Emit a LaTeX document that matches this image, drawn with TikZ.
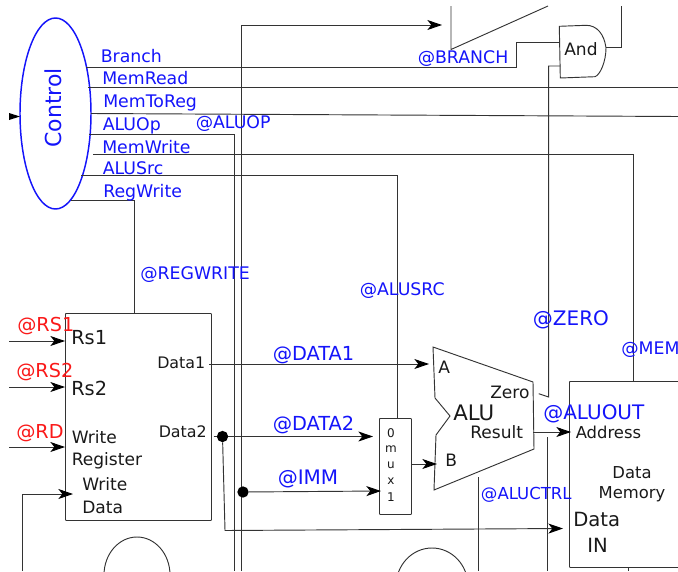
\documentclass[tikz,border=0pt]{standalone}
\usepackage{fontspec}
\setmainfont{DejaVu Sans}
\usetikzlibrary{arrows.meta,shapes.geometric}
\definecolor{lbl}{RGB}{20,20,250}
\definecolor{lred}{RGB}{250,25,25}
\tikzset{
  x=0.75pt,y=-0.75pt,
  wire/.style={draw=black!80,line width=0.7pt},
  arr/.style={wire,-{Stealth[length=11pt,width=7.5pt,inset=3pt,black]}},
  box/.style={draw=black!80,line width=0.7pt},
  bl/.style={text=lbl,font=\fontsize{13}{13}\selectfont,anchor=west,inner sep=0pt},
  blb/.style={text=lbl,font=\fontsize{14.5}{14.5}\selectfont,anchor=west,inner sep=0pt},
  rd/.style={text=lred,font=\fontsize{14.4}{14.4}\selectfont,anchor=west,inner sep=0pt},
  tx/.style={text=black!90,font=\fontsize{12.8}{12.8}\selectfont,anchor=west,inner sep=0pt},
  muxl/.style={text=black!90,font=\fontsize{9}{9}\selectfont,inner sep=0pt},
  dot/.style={circle,fill=black,inner sep=0pt,minimum size=8.5pt},
}
\begin{document}
\begin{tikzpicture}
\useasboundingbox (0,0) rectangle (678,571);
% free ends of connectors
\coordinate (ctlBranch) at (86,67);
\coordinate (ctlMemRead) at (88,87);
\coordinate (ctlM2R) at (91,113.5);
\coordinate (ctlALUOp) at (89,134);
\coordinate (ctlMemWrite) at (93,154.5);
\coordinate (ctlALUSrc) at (81,175);
\coordinate (ctlRegWrite) at (71,200);
\coordinate (pcTarget) at (442,25);
\coordinate (zeroEnd) at (548.7,397);
% units
\node[box,rounded corners=0.5pt,minimum width=109.5pt,minimum height=155.25pt,inner sep=0pt,anchor=north west] (reg) at (65,313) {};
\node[box,rounded corners=0.5pt,minimum width=90pt,minimum height=139.5pt,inner sep=0pt,anchor=north west] (mem) at (569,381) {};
\node[box,rounded corners=0.5pt,minimum width=24pt,minimum height=72pt,inner sep=0pt,anchor=north west] (mux) at (379,418) {};
\node[draw=lbl,line width=1.1pt,ellipse,minimum width=53.25pt,minimum height=143.25pt,inner sep=0pt] (ctl) at (55.5,113.5) {};
% ALU
\draw[box] (433,347) -- (533,382) -- (534,449) -- (434,490) -- (436,435) -- (450,416) -- (435,398) -- cycle;
\coordinate (aluA) at (429,364);
\coordinate (aluB) at (437,464);
\coordinate (aluRes) at (533,432);
\coordinate (aluZero) at (538.7,393.7);
% wires
\draw[wire] (ctlBranch) -- (516.7,67) -- (516.7,42) -- (559.5,42);
\draw[wire] (ctlMemRead) -- (678,87);
\draw[wire] (ctlM2R) -- (678,116.5);
\draw[wire] (ctlALUOp) -- (234,134) -- (234,571);
\draw[wire] (ctlMemWrite) -- (633.7,154.5) -- (633.7,381);
\draw[wire] (ctlALUSrc) -- (397,175) -- (397,418);
\draw[wire] (ctlRegWrite) -- (134.5,200) -- (134.5,313);
\draw[arr] (241.5,571) -- (241.5,25) -- (pcTarget);
% branch adder stub
\draw[wire] (451,6) -- (451,49.5) -- (548,6);
% And gate
\draw[box] (559.3,26.3) -- (586,25.3) .. controls (597,25.3) and (604,34) .. (606,47.7) .. controls (606,62) and (600,75) .. (595,76.7) -- (560.3,78) -- cycle;
\draw[wire] (606,47.5) -- (621,47.5) -- (621,6);
\draw[wire] (560.3,66) -- (548.7,66) -- (zeroEnd) -- (aluZero);
% Register file and datapath arrows
\coordinate (rs1In) at (9,341);
\coordinate (rs2In) at (9,387);
\coordinate (rdIn) at (9,447);
\draw[arr] (rs1In) -- (65,341);
\draw[arr] (rs2In) -- (65,387);
\draw[arr] (rdIn) -- (65,447);
\draw[arr] (22,571) -- (22,494) -- (73,494);
\draw[arr] (209,364) -- (aluA);
\node[dot] (d2) at (222.5,436.5) {};
\node[dot] (imm) at (243,492) {};
\draw[wire] (213.5,436.5) -- (d2);
\draw[arr] (d2) -- (373,436.5);
\draw[arr] (imm) -- (381,491);
\draw[arr] (mux.east |- aluB) -- (aluB);
\draw[arr] (d2) -- (225,530.5) -- (563,528.5);
\draw[arr] (aluRes) -- (571,432);
\draw[wire] (478,477) -- (478,571);
\draw[wire] (547,437) -- (547,571);
\draw[wire] (628,567) -- (628,571);
% control input
\coordinate (ctlIn) at (9,116.5);
\fill[black] (ctlIn) ++(0,-3.5) -- (20,116.5) -- (9,120) -- cycle;
% partial ellipses at the lower edge
\draw[box] (137,575) ellipse [x radius=33,y radius=38];
\draw[box] (432,586) ellipse [x radius=36,y radius=38];
% Control labels
\node[rotate=90,text=lbl,font=\fontsize{16.5}{16.5}\selectfont,inner sep=0pt] (ctll) at (53.5,108) {Control};
\node[bl] (n1) at (100.5,56) {Branch};
\node[bl] (n2) at (102,78) {MemRead};
\node[bl] (n3) at (103,102.5) {MemToReg};
\node[bl] (n4) at (102.5,126) {ALUOp};
\node[bl] (n5) at (102,147) {MemWrite};
\node[bl] (n6) at (102.5,168) {ALUSrc};
\node[bl] (n7) at (103,193) {RegWrite};
\node[bl] (n8) at (195.5,124) {@ALUOP};
\node[bl] (n9) at (140,275) {@REGWRITE};
\node[bl] (n10) at (417.5,59) {@BRANCH};
\node[bl] (n11) at (359.5,291) {@ALUSRC};
\node[bl,font=\fontsize{15}{15}\selectfont] (n12) at (532.7,320) {@ZERO};
\node[bl] (n13) at (621,350) {@MEM};
\node[blb] (n14) at (272.5,355) {@DATA1};
\node[blb] (n15) at (272.5,425) {@DATA2};
\node[bl,font=\fontsize{15}{15}\selectfont] (n16) at (277.5,479) {@IMM};
\node[bl,font=\fontsize{15}{15}\selectfont] (n17) at (543,414) {@ALUOUT};
\node[bl,font=\fontsize{12.4}{12.4}\selectfont] (n18) at (480.7,494.5) {@ALUCTRL};
% red
\node[rd] (r1) at (17,326) {@RS1};
\node[rd] (r2) at (16,372) {@RS2};
\node[rd] (r3) at (16,433) {@RD};
% register text
\node[tx,font=\fontsize{14.5}{14.5}\selectfont] (t1) at (71,338) {Rs1};
\node[tx,font=\fontsize{14.5}{14.5}\selectfont] (t2) at (71,388) {Rs2};
\node[tx] (t3) at (71.5,437) {Write};
\node[tx] (t4) at (71.5,460.5) {Register};
\node[tx] (t5) at (82,484) {Write};
\node[tx] (t6) at (82,507) {Data};
\node[tx,font=\fontsize{11.9}{11.9}\selectfont] (t7) at (157,363) {Data1};
\node[tx,font=\fontsize{11.9}{11.9}\selectfont] (t8) at (158.5,432) {Data2};
% mux text
\node[muxl] (m1) at (391,433) {0};
\node[muxl] (m2) at (391,449) {m};
\node[muxl] (m3) at (391,465) {u};
\node[muxl] (m4) at (391,481) {x};
\node[muxl] (m5) at (391,497) {1};
% ALU text
\node[tx] (a1) at (438,367) {A};
\node[tx] (a2) at (445,460) {B};
\node[tx,font=\fontsize{16}{16}\selectfont] (a3) at (453,413) {ALU};
\node[tx] (a4) at (470,432) {Result};
\node[tx] (a5) at (490,392) {Zero};
\node[tx] (andl) at (564,49) {And};
% memory text
\node[tx,font=\fontsize{12.3}{12.3}\selectfont] (e1) at (575.5,432) {Address};
\node[tx,font=\fontsize{12.3}{12.3}\selectfont,anchor=center] (e2) at (632,473) {Data};
\node[tx,font=\fontsize{12.3}{12.3}\selectfont,anchor=center] (e3) at (632,494.5) {Memory};
\node[tx,font=\fontsize{14.7}{14.7}\selectfont] (e4) at (573,519) {Data};
\node[tx,font=\fontsize{14.7}{14.7}\selectfont] (e5) at (587,545) {IN};
\end{tikzpicture}
\end{document}
